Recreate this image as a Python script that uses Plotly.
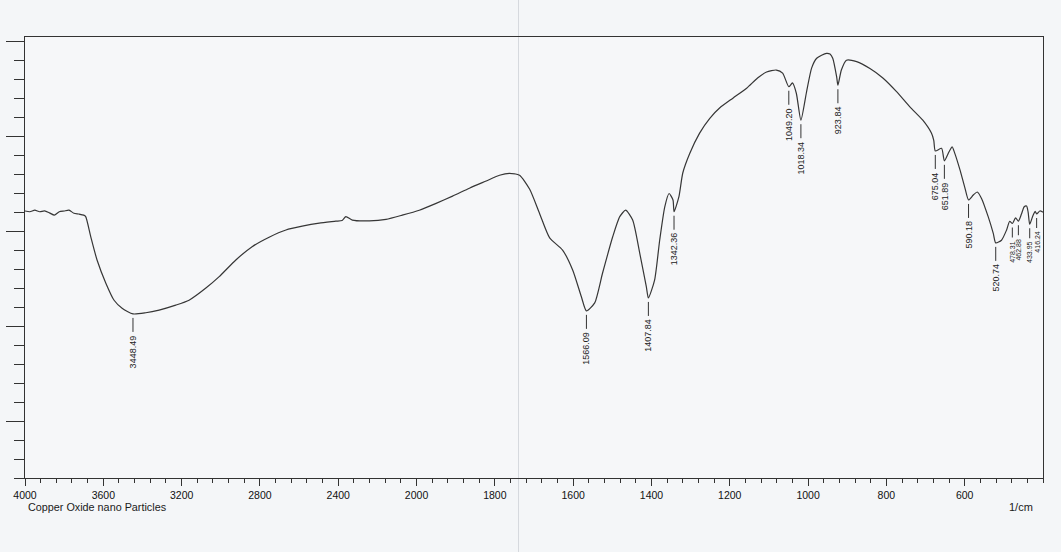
import plotly.graph_objects as go

# ---- data ----
wavenumber = [
    4000, 3975, 3950, 3925, 3900, 3875, 3850, 3825, 3800, 3775, 3750, 3725, 3700,
    3690, 3664, 3632, 3587, 3545, 3504, 3448.49, 3383, 3315, 3230, 3162, 3076, 3008,
    2923, 2840, 2753, 2667, 2584, 2497, 2412, 2380, 2361, 2328, 2241, 2156, 2073,
    1993, 1950, 1908, 1865, 1822, 1788, 1763, 1737, 1711, 1686, 1660, 1627, 1601,
    1579, 1566.09, 1545, 1525, 1499, 1481, 1466, 1448, 1430, 1413, 1407.84, 1392,
    1379, 1366, 1355, 1345, 1342.36, 1330, 1320, 1302, 1277, 1251, 1226, 1192, 1157,
    1129, 1106, 1081, 1065, 1049.20, 1040, 1030, 1018.34, 1004, 991, 978, 953, 944,
    937, 927, 923.84, 915, 902, 876, 842, 809, 774, 740, 707, 685, 679, 675.04, 659,
    651.89, 640, 632, 625, 612, 599, 590.18, 578, 568, 557, 540, 527, 520.74, 506,
    493, 485, 478.31, 470, 462.88, 455, 448, 442, 438, 433.95, 426, 420, 416.24,
    408, 400,
]
transmittance = [
    55.3, 55.1, 55.5, 55.1, 55.3, 54.8, 54.2, 55.1, 55.3, 55.5, 54.7, 54.5, 54.2,
    53.8, 48.5, 42.4, 36.3, 31.8, 29.7, 28.2, 28.5, 29.2, 30.5, 31.8, 35.0, 38.0,
    42.4, 45.9, 48.4, 50.3, 51.3, 52.1, 52.6, 52.8, 53.8, 52.9, 52.7, 53.1, 54.2,
    55.5, 57.3, 59.2, 61.3, 63.2, 64.7, 65.2, 64.7, 61.0, 54.7, 48.2, 45.0, 39.7,
    32.7, 29.0, 31.1, 38.9, 48.5, 53.8, 55.5, 52.9, 44.2, 35.3, 32.4, 37.1,
    47.6, 56.4, 59.9, 58.2, 55.1, 59.0, 65.3, 70.5, 75.8, 79.7, 82.4, 85.0, 87.6,
    90.3, 91.9, 92.4, 91.6, 88.0, 89.0, 86.3, 79.2, 86.6, 92.9, 95.5, 96.8, 96.6,
    95.5, 90.6, 88.4, 92.4, 95.0, 94.6, 92.8, 90.3, 86.7, 82.7, 79.2, 75.8, 73.9, 71.1, 71.8,
    68.5, 70.9, 72.2, 70.4, 66.1, 61.2, 58.2, 59.5, 60.3, 58.6, 53.8, 49.4, 46.9, 47.6,
    50.3, 52.6, 52.0, 53.5, 52.6, 54.5, 56.4, 56.6, 55.0, 51.8, 54.0, 55.2, 54.5,
    55.3, 55.0,
]
peak_labels = ["3448.49", "1566.09", "1407.84", "1342.36", "1049.20", "1018.34",
               "923.84", "675.04", "651.89", "590.18", "520.74", "478.31",
               "462.88", "433.95", "416.24"]
x_tick_labels = [4000, 3600, 3200, 2800, 2400, 2000, 1800, 1600, 1400, 1200,
                 1000, 800, 600]


# instrument axis: 4000-2000 compressed 2x relative to 2000-400
def axis_pos(w):
    return w if w <= 2000 else 2000 + (w - 2000) / 2.0


xs = [axis_pos(w) for w in wavenumber]
T_at = {round(w, 2): t for w, t in zip(wavenumber, transmittance)}

ink = "#333333"
font_family = "Liberation Sans, Arial"
fig = go.Figure()
fig.add_trace(go.Scatter(x=xs, y=transmittance, mode="lines",
                         line=dict(color="#363636", width=1.2,
                                   shape="spline", smoothing=0.6),
                         hoverinfo="skip", showlegend=False))

shapes = []
annotations = []
for lab in peak_labels:
    w = float(lab)
    t = T_at[round(w, 2)]
    xp = axis_pos(w)
    crowded = w < 500
    shapes.append(dict(type="line", xref="x", yref="y", ysizemode="pixel",
                       yanchor=t, x0=xp, x1=xp, y0=-4,
                       y1=-14 if crowded else -18,
                       line=dict(color=ink, width=1)))
    annotations.append(dict(x=xp, y=t, xref="x", yref="y", text=lab,
                            showarrow=False, textangle=-90, yanchor="top",
                            xanchor="center", yshift=-15 if crowded else -19,
                            font=dict(family=font_family,
                                      size=7 if crowded else 9,
                                      color="#222222")))

# paper fold of the scan
shapes.append(dict(type="line", xref="paper", yref="paper", x0=0.4848, x1=0.4848,
                   y0=-0.2, y1=1.09, line=dict(color="#d6d9de", width=1),
                   layer="below"))

annotations.append(dict(x=0.0, y=-0.047, xref="paper", yref="paper",
                        xanchor="left", yanchor="top", xshift=1,
                        text="Copper Oxide nano Particles", showarrow=False,
                        font=dict(family=font_family, size=10.8,
                                  color="#1a1a1a")))
annotations.append(dict(x=1.0, y=-0.047, xref="paper", yref="paper",
                        xanchor="right", yanchor="top", xshift=-8,
                        text="1/cm", showarrow=False,
                        font=dict(family=font_family, size=11,
                                  color="#1a1a1a")))

fig.update_layout(
    width=1061, height=552,
    margin=dict(l=25, r=18, t=37, b=74),
    paper_bgcolor="#f4f6f8", plot_bgcolor="#f6f7f9",
    shapes=shapes, annotations=annotations,
    xaxis=dict(range=[axis_pos(4000), axis_pos(400)],
               tickmode="array",
               tickvals=[axis_pos(v) for v in x_tick_labels],
               ticktext=[str(v) for v in x_tick_labels],
               ticks="outside", ticklen=7, tickcolor=ink, tickwidth=1,
               minor=dict(tickmode="linear", tick0=400, dtick=40,
                          ticks="outside", ticklen=4, tickcolor=ink),
               showline=True, linecolor=ink, linewidth=1, mirror=True,
               showgrid=False, zeroline=False, automargin=False,
               tickfont=dict(family=font_family, size=10.5,
                             color="#111111")),
    yaxis=dict(range=[-15, 101.1],
               tickmode="array", tickvals=[0, 25, 50, 75, 100],
               showticklabels=False,
               ticks="outside", ticklen=18, tickcolor=ink, tickwidth=1,
               minor=dict(tickmode="linear", tick0=0, dtick=5,
                          ticks="outside", ticklen=10, tickcolor=ink),
               showline=True, linecolor=ink, linewidth=1, mirror=True,
               showgrid=False, zeroline=False, automargin=False),
)

fig.write_html(
    "out.html",
    config={"displayModeBar": False},
    post_script="document.body.style.margin='0';"
                "document.body.style.background='#f4f6f8';",
)
